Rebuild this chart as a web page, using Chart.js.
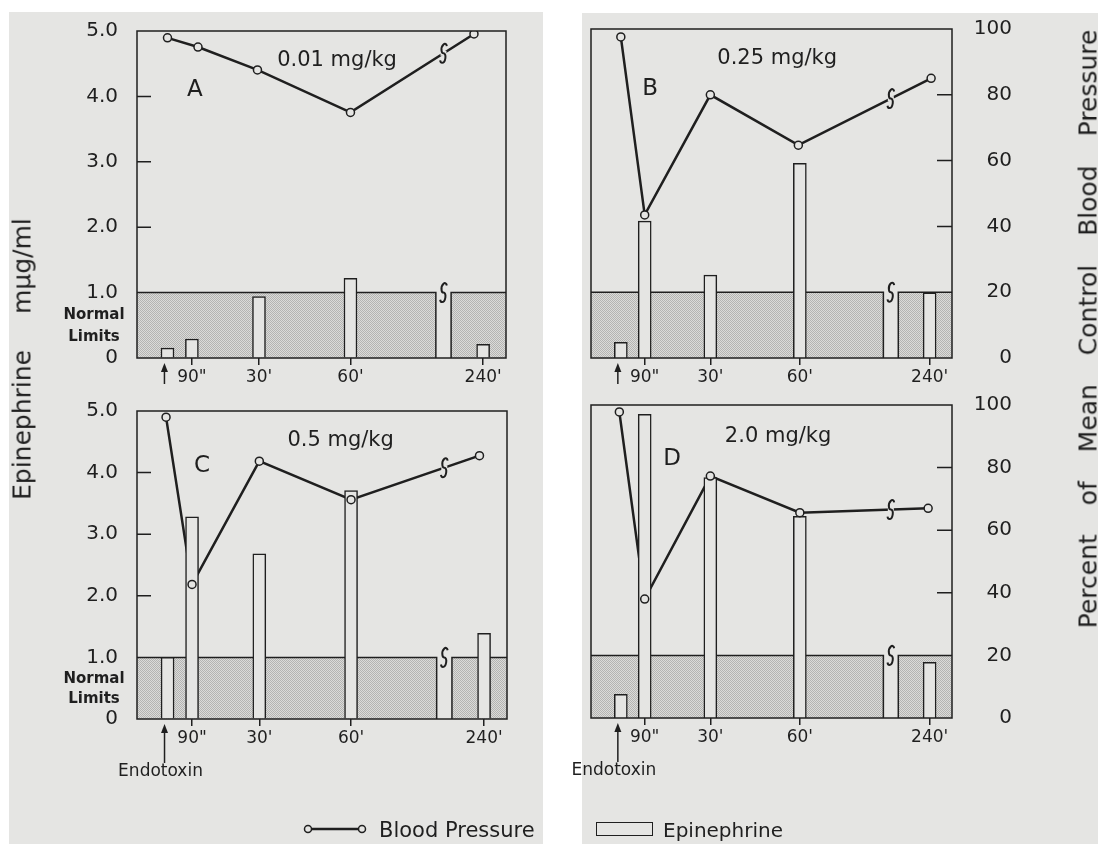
<!DOCTYPE html>
<html>
<head>
<meta charset="utf-8">
<script src="https://cdn.jsdelivr.net/npm/chart.js@4.4.1/dist/chart.umd.min.js"></script>
<style>
body{margin:0;width:1098px;height:844px;background:#fff;position:relative;overflow:hidden;font-family:"DejaVu Sans",sans-serif;color:#1f1f1f}
.paper{position:absolute;background:#e5e5e3}
canvas{position:absolute}
.vtitle{position:absolute;white-space:pre;line-height:29px;font-size:25px;transform:translate(-50%,-50%) rotate(-90deg)}
.lg{position:absolute;line-height:24px;white-space:pre}
</style>
</head>
<body>
<div class="paper" style="left:9px;top:12px;width:534px;height:832px"></div>
<div class="paper" style="left:582px;top:13px;width:516px;height:831px"></div>

<canvas id="cA" width="560" height="392" style="left:0;top:0"></canvas>
<canvas id="cB" width="538" height="392" style="left:560px;top:0"></canvas>
<canvas id="cC" width="560" height="464" style="left:0;top:380px"></canvas>
<canvas id="cD" width="538" height="464" style="left:560px;top:380px"></canvas>

<div class="vtitle" style="left:22px;top:359px;word-spacing:28px">Epinephrine mµg/ml</div>
<div class="vtitle" style="left:1088px;top:329px;word-spacing:21px">Percent of Mean Control Blood Pressure</div>

<svg style="position:absolute;left:300px;top:820px" width="70" height="18">
  <line x1="11.5" y1="9" x2="58.5" y2="9" stroke="#1f1f1f" stroke-width="2.5"/>
  <circle cx="8" cy="9" r="3.5" fill="#e5e5e3" stroke="#1f1f1f" stroke-width="1.5"/>
  <circle cx="62" cy="9" r="3.5" fill="#e5e5e3" stroke="#1f1f1f" stroke-width="1.5"/>
</svg>
<div class="lg" style="left:379px;top:818px;font-size:21px">Blood Pressure</div>
<div style="position:absolute;left:596px;top:822px;width:57px;height:14px;box-sizing:border-box;border:1.5px solid #1f1f1f"></div>
<div class="lg" style="left:663px;top:818px;font-size:20px">Epinephrine</div>

<script>
// plotted positions along the broken time axis (endotoxin = 0)
const barTimes = [0, 8, 30, 60, 103.5];
const tickPos = [8, 30, 60, 103.5];
const tickLabels = ['90"', "30'", "60'", "240'"];
const breakFrom = 88, breakTo = 93, breakAt = 90.5;
const normalHigh = 1.0;

// epinephrine, mµg/ml
const epiA = [0.15, 0.29, 0.94, 1.22, 0.21];
const epiB = [0.24, 2.08, 1.26, 2.96, 0.99];
const epiC = [1.00, 3.28, 2.68, 3.71, 1.39];
const epiD = [0.38, 4.85, 3.84, 3.22, 0.89];

// blood pressure, percent of mean control
const bpTimesA = [0, 10, 29.5, 60, 100.5];
const bpA = [97.9, 95.1, 88.1, 75.1, 99.1];
const bpTimesB = [0, 8, 30, 59.5, 104];
const bpB = [97.6, 43.5, 80, 64.7, 85];
const bpTimesC = [-0.5, 8, 30, 60, 102];
const bpC = [98, 43.7, 83.7, 71.2, 85.5];
const bpTimesD = [-0.5, 8, 30, 60, 103];
const bpD = [97.8, 38, 77.3, 65.6, 67];

const ink = '#1f1f1f';
const paper = '#e5e5e3';
const family = '"DejaVu Sans", sans-serif';
Chart.defaults.font.family = family;
Chart.defaults.color = ink;

const tile = document.createElement('canvas');
tile.width = 2; tile.height = 2;
const tc = tile.getContext('2d');
tc.fillStyle = '#dbdbd9'; tc.fillRect(0, 0, 2, 2);
tc.fillStyle = '#b4b4b2'; tc.fillRect(0, 0, 1, 1); tc.fillRect(1, 1, 1, 1);

function lineValueAt(xs, ys, xv) {
  for (let i = 0; i < xs.length - 1; i++) {
    if (xs[i] <= xv && xv <= xs[i + 1]) {
      const t = (xv - xs[i]) / (xs[i + 1] - xs[i]);
      return ys[i] + t * (ys[i + 1] - ys[i]);
    }
  }
  return ys[ys.length - 1];
}

function drawS(ctx, cx, cy, h) {
  const r = h / 4;
  ctx.save();
  ctx.translate(cx, cy);
  ctx.transform(0.55, 0, -0.15, 1, 0, 0);
  ctx.beginPath();
  ctx.arc(0, -r, r, -Math.PI / 6, Math.PI / 2, true);
  ctx.arc(0, r, r, -Math.PI / 2, 5 * Math.PI / 6, false);
  ctx.restore();
  ctx.strokeStyle = ink;
  ctx.lineWidth = 2;
  ctx.stroke();
}

const decor = {
  id: 'decor',
  beforeDatasetsDraw(chart, args, o) {
    const {ctx, chartArea: a, scales: {x, y}} = chart;
    const yTop = y.getPixelForValue(normalHigh), y0 = y.getPixelForValue(0);
    const g1 = x.getPixelForValue(breakFrom), g2 = x.getPixelForValue(breakTo);
    ctx.save();
    ctx.fillStyle = ctx.createPattern(tile, 'repeat');
    ctx.fillRect(a.left, yTop, g1 - a.left, y0 - yTop);
    ctx.fillRect(g2, yTop, a.right - g2, y0 - yTop);
    ctx.strokeStyle = ink;
    ctx.lineWidth = 1.5;
    ctx.beginPath();
    ctx.moveTo(a.left, yTop); ctx.lineTo(g1, yTop); ctx.lineTo(g1, y0);
    ctx.moveTo(g2, y0); ctx.lineTo(g2, yTop); ctx.lineTo(a.right, yTop);
    ctx.stroke();
    ctx.restore();
  },
  afterDatasetsDraw(chart, args, o) {
    const {ctx, chartArea: a, scales: {x, y, y2}} = chart;
    ctx.save();
    // break marks
    const yTop = y.getPixelForValue(normalHigh);
    drawS(ctx, x.getPixelForValue(breakAt), yTop, 19);
    const lx = x.getPixelForValue(breakAt);
    const ly = y2.getPixelForValue(lineValueAt(o.bpTimes, o.bp, breakAt));
    ctx.strokeStyle = paper; ctx.lineWidth = 5;
    ctx.beginPath(); ctx.moveTo(lx - 3, ly); ctx.lineTo(lx + 3, ly); ctx.stroke();
    drawS(ctx, lx, ly, 19);

    // frame and inner ticks
    ctx.strokeStyle = ink; ctx.lineWidth = 1.5;
    ctx.strokeRect(a.left, a.top, a.right - a.left, a.bottom - a.top);
    ctx.beginPath();
    if (o.side === 'left') {
      [2, 3, 4].forEach(v => { const p = y.getPixelForValue(v); ctx.moveTo(a.left, p); ctx.lineTo(a.left + 14, p); });
    } else {
      [40, 60, 80].forEach(v => { const p = y2.getPixelForValue(v); ctx.moveTo(a.right - 15, p); ctx.lineTo(a.right, p); });
    }
    ctx.stroke();

    // texts
    ctx.fillStyle = ink;
    ctx.textAlign = 'center'; ctx.textBaseline = 'middle';
    ctx.font = '23px ' + family;
    ctx.fillText(o.letter, x.getPixelForValue(o.letterAt[0]), y.getPixelForValue(o.letterAt[1]));
    ctx.font = '21px ' + family;
    ctx.fillText(o.dose, x.getPixelForValue(o.doseAt[0]), y.getPixelForValue(o.doseAt[1]));
    if (o.side === 'left') {
      ctx.font = 'bold 15px ' + family;
      ctx.fillText('Normal', a.left - 43, y.getPixelForValue(0.65));
      ctx.fillText('Limits', a.left - 43, y.getPixelForValue(0.32));
    }

    // endotoxin arrow
    const ax = x.getPixelForValue(-1), y0 = y.getPixelForValue(0);
    const tip = y0 + 5, tail = y0 + (o.endo ? 44 : 26);
    ctx.lineWidth = 1.5;
    ctx.beginPath(); ctx.moveTo(ax, tip + 6); ctx.lineTo(ax, tail); ctx.stroke();
    ctx.beginPath(); ctx.moveTo(ax, tip); ctx.lineTo(ax - 3.5, tip + 9); ctx.lineTo(ax + 3.5, tip + 9); ctx.closePath(); ctx.fill();
    if (o.endo) {
      ctx.font = '17px ' + family;
      ctx.fillText('Endotoxin', ax - 4, y0 + 53);
    }
    ctx.restore();
  }
};

function makePanel(id, epi, bpTimes, bp, cfg) {
  const pts = bp.map((v, i) => ({x: bpTimes[i], y: v}));
  new Chart(document.getElementById(id), {
    type: 'bar',
    data: {
      datasets: [
        {type: 'line', data: pts, yAxisID: 'y2', borderColor: ink, borderWidth: 2.5, pointRadius: 0, order: 3},
        {type: 'bar', data: epi.map((v, i) => ({x: barTimes[i], y: v})), yAxisID: 'y',
         backgroundColor: paper, borderColor: ink, borderWidth: 1.5, barThickness: 13, order: 2},
        {type: 'line', data: pts, yAxisID: 'y2', showLine: false, pointRadius: 4,
         pointBackgroundColor: paper, pointBorderColor: ink, pointBorderWidth: 1.5, order: 1}
      ]
    },
    options: {
      responsive: false,
      animation: false,
      events: [],
      layout: {padding: cfg.padding},
      plugins: {
        legend: {display: false},
        tooltip: {enabled: false},
        decor: {letter: cfg.letter, dose: cfg.dose, letterAt: cfg.letterAt, doseAt: cfg.doseAt,
                side: cfg.side, endo: cfg.endo, bpTimes: bpTimes, bp: bp}
      },
      scales: {
        x: {
          type: 'linear', min: -10, max: 111, offset: false,
          afterBuildTicks: s => { s.ticks = tickPos.map(v => ({value: v})); },
          ticks: {callback: (v, i) => tickLabels[i], font: {size: 17}, color: ink, padding: 2, maxRotation: 0, autoSkip: false},
          grid: {offset: false, drawOnChartArea: false, drawTicks: true, tickLength: 7, color: ink, lineWidth: 1.5},
          border: {display: false},
          afterFit: s => { s.height = cfg.xHeight; }
        },
        y: {
          position: 'left', min: 0, max: 5, display: cfg.side === 'left',
          ticks: {stepSize: 1, callback: v => v === 0 ? '0' : v.toFixed(1), font: {size: 20}, color: ink, padding: 19},
          grid: {drawOnChartArea: false, drawTicks: false},
          border: {display: false},
          afterFit: s => { s.width = s.options.display ? 137 : 0; }
        },
        y2: {
          position: 'right', min: 0, max: 100, display: cfg.side === 'right',
          ticks: {stepSize: 20, font: {size: 20}, color: ink, padding: 13, crossAlign: 'far'},
          grid: {drawOnChartArea: false, drawTicks: false},
          border: {display: false},
          afterFit: s => { s.width = s.options.display ? 60 : 0; }
        }
      }
    },
    plugins: [decor]
  });
}

makePanel('cA', epiA, bpTimesA, bpA, {letter: 'A', dose: '0.01 mg/kg', letterAt: [9, 4.09], doseAt: [55.6, 4.55],
  side: 'left', endo: false, xHeight: 34, padding: {top: 29, left: 0, right: 54, bottom: 0}});
makePanel('cB', epiB, bpTimesB, bpB, {letter: 'B', dose: '0.25 mg/kg', letterAt: [9.8, 4.09], doseAt: [52.4, 4.55],
  side: 'right', endo: false, xHeight: 34, padding: {top: 29, left: 31, right: 86, bottom: 0}});
makePanel('cC', epiC, bpTimesC, bpC, {letter: 'C', dose: '0.5 mg/kg', letterAt: [11.3, 4.1], doseAt: [56.6, 4.52],
  side: 'left', endo: true, xHeight: 125, padding: {top: 13, left: 0, right: 53, bottom: 0}});
makePanel('cD', epiD, bpTimesD, bpD, {letter: 'D', dose: '2.0 mg/kg', letterAt: [17.2, 4.13], doseAt: [52.7, 4.5],
  side: 'right', endo: true, xHeight: 126, padding: {top: 12, left: 31, right: 86, bottom: 0}});
</script>
</body>
</html>
